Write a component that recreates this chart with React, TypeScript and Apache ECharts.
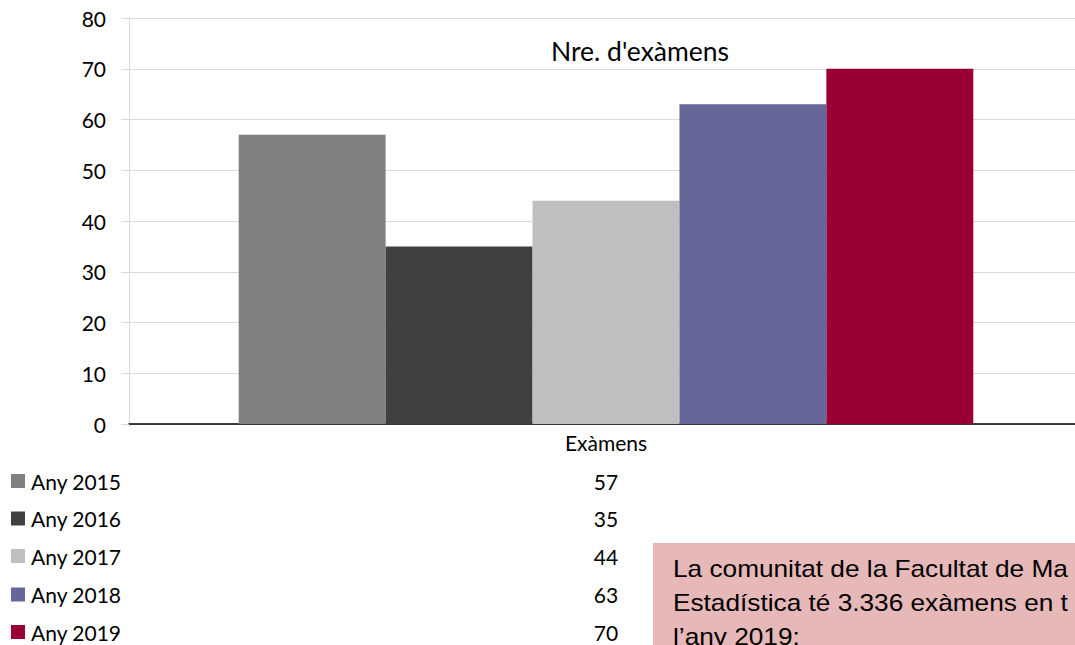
import React, { useEffect, useRef } from "react";
import * as echarts from "echarts";

const categories = ["Exàmens"];
const seriesNames = ["Any 2015", "Any 2016", "Any 2017", "Any 2018", "Any 2019"];
const seriesValues = [57, 35, 44, 63, 70];
const seriesColors = ["#808080", "#404040", "#bfbfbf", "#666699", "#990033"];
const yTicks = { min: 0, max: 80, interval: 10 };
const titleText = "Nre. d'exàmens";
const noteLines = [
  "La comunitat de la Facultat de Ma",
  "Estadística té 3.336 exàmens en t",
  "l’any 2019:",
];

const LABEL_FONT = "Lato, 'Open Sans', sans-serif";

export default function App() {
  const ref = useRef<HTMLDivElement>(null);

  useEffect(() => {
    if (!ref.current) return;
    const chart = echarts.init(ref.current, undefined, { renderer: "svg" });

    const rowY = [481, 518.5, 556, 594.5, 632];
    const graphics: any[] = [];
    seriesNames.forEach((name, i) => {
      graphics.push({
        type: "rect",
        shape: { x: 11, y: rowY[i] - 7, width: 14, height: 14 },
        style: { fill: seriesColors[i] },
      });
      graphics.push({
        type: "text",
        x: 31,
        y: rowY[i],
        style: {
          text: name,
          fill: "#000",
          font: `21px ${LABEL_FONT}`,
          verticalAlign: "middle",
          align: "left",
        },
      });
      graphics.push({
        type: "text",
        x: 606,
        y: rowY[i],
        style: {
          text: String(seriesValues[i]),
          fill: "#000",
          font: `21px ${LABEL_FONT}`,
          verticalAlign: "middle",
          align: "center",
        },
      });
    });
    graphics.push({
      type: "rect",
      shape: { x: 653, y: 543, width: 500, height: 110 },
      style: { fill: "#e6b8b7" },
    });
    const noteY = [569, 603, 637];
    noteLines.forEach((t, i) => {
      graphics.push({
        type: "text",
        x: 673,
        y: noteY[i],
        scaleX: 1.14,
        style: {
          text: t,
          fill: "#000",
          font: "23px 'Liberation Sans', Arial, sans-serif",
          verticalAlign: "middle",
          align: "left",
        },
      });
    });
    graphics.push({
      type: "text",
      x: 640,
      y: 51,
      style: {
        text: titleText,
        fill: "#000",
        font: `26.5px ${LABEL_FONT}`,
        verticalAlign: "middle",
        align: "center",
      },
    });

    chart.setOption({
      animation: false,
      backgroundColor: "#ffffff",
      grid: { left: 129, right: 17, top: 18, bottom: 221, containLabel: false },
      xAxis: {
        type: "category",
        data: categories,
        axisLine: { show: true, lineStyle: { color: "#000", width: 1.5 } },
        axisTick: { show: false },
        axisLabel: {
          color: "#000",
          fontSize: 21,
          fontFamily: LABEL_FONT,
          margin: 8,
        },
        splitLine: { show: false },
      },
      yAxis: {
        type: "value",
        min: yTicks.min,
        max: yTicks.max,
        interval: yTicks.interval,
        axisLine: { show: true, lineStyle: { color: "#d9d9d9", width: 1 } },
        axisTick: { show: true, length: 8, lineStyle: { color: "#d9d9d9" } },
        axisLabel: {
          color: "#000",
          fontSize: 21,
          fontFamily: LABEL_FONT,
          margin: 23,
        },
        splitLine: { show: true, lineStyle: { color: "#d9d9d9", width: 1 } },
      },
      series: seriesNames.map((name, i) => ({
        type: "bar",
        name,
        data: [seriesValues[i]],
        itemStyle: { color: seriesColors[i] },
        barGap: "0%",
        barCategoryGap: "23%",
      })),
      graphic: graphics,
    });

    return () => chart.dispose();
  }, []);

  return (
    <div
      style={{
        position: "absolute",
        left: 0,
        top: 0,
        width: 1075,
        height: 645,
        overflow: "hidden",
        background: "#fff",
      }}
    >
      <div ref={ref} style={{ width: 1100, height: 645 }} />
    </div>
  );
}
